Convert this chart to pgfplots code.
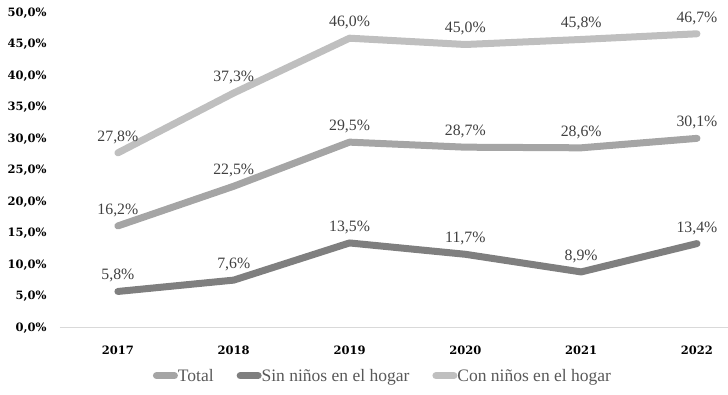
\documentclass[border=0pt]{standalone}
\usepackage{pgfplots}
\pgfplotsset{compat=1.18}
\usepackage{fontspec}
\setmainfont{Liberation Serif}
\newfontfamily\tickfont{DejaVu Serif}
\definecolor{ctotal}{HTML}{A5A5A5}
\definecolor{csin}{HTML}{7F7F7F}
\definecolor{ccon}{HTML}{BFBFBF}
\definecolor{lbl}{HTML}{404040}
\definecolor{leg}{HTML}{595959}
\definecolor{axl}{HTML}{D9D9D9}
\begin{document}
\begin{tikzpicture}
\begin{axis}[
  scale only axis, width=668pt, height=315pt,
  xmin=-0.5, xmax=5.268, ymin=0, ymax=50,
  axis x line*=bottom, axis y line*=left,
  x axis line style={draw=axl, line width=1pt, -},
  y axis line style={draw=none},
  major tick length=0pt,
  xtick={0,...,5}, xticklabels={2017,2018,2019,2020,2021,2022},
  ytick={0,5,...,50},
  yticklabels={{0,0\%},{5,0\%},{10,0\%},{15,0\%},{20,0\%},{25,0\%},{30,0\%},{35,0\%},{40,0\%},{45,0\%},{50,0\%}},
  tick label style={font=\tickfont\bfseries\fontsize{11.5}{13}\selectfont, text=black},
  xticklabel style={yshift=-14pt},
  yticklabel style={xshift=-10pt},
  clip=false,
  nodes near coords={\pgfmathprintnumber[fixed,fixed zerofill,precision=1,use comma,assume math mode=true]{\pgfplotspointmeta}\%},
  every node near coord/.append style={font=\fontsize{15.8}{17}\selectfont, text=lbl, anchor=base, yshift=11.5pt, inner sep=0pt},
  legend style={at={(0.482,-0.152)}, anchor=center, draw=none, fill=none,
    font=\fontsize{17.5}{19}\selectfont, text=leg, legend columns=3,
    inner sep=0pt, nodes={inner sep=0pt, anchor=base west},
    /tikz/column sep=0pt,
    /tikz/every even column/.append style={column sep=23pt}},
  legend image code/.code={\draw[#1, line width=7pt, line cap=round] (3.5pt,5.5pt) -- (21.5pt,5.5pt);},
]
\coordinate (ll) at (rel axis cs:0,0);
\coordinate (ur) at (rel axis cs:1,1);
\addplot[ctotal, line width=7pt, line cap=round, line join=round] coordinates {(0,16.2) (1,22.5) (2,29.5) (3,28.7) (4,28.6) (5,30.1)};
\addlegendentry{Total}
\addplot[csin, line width=7pt, line cap=round, line join=round] coordinates {(0,5.8) (1,7.6) (2,13.5) (3,11.7) (4,8.9) (5,13.4)};
\addlegendentry{Sin niños en el hogar}
\addplot[ccon, line width=7pt, line cap=round, line join=round] coordinates {(0,27.8) (1,37.3) (2,46.0) (3,45.0) (4,45.8) (5,46.7)};
\addlegendentry{Con niños en el hogar}
\end{axis}
\pgfresetboundingbox
\path[use as bounding box] ([shift={(-60pt,-67pt)}]ll) rectangle ([shift={(0pt,13pt)}]ur);
\end{tikzpicture}
\end{document}
